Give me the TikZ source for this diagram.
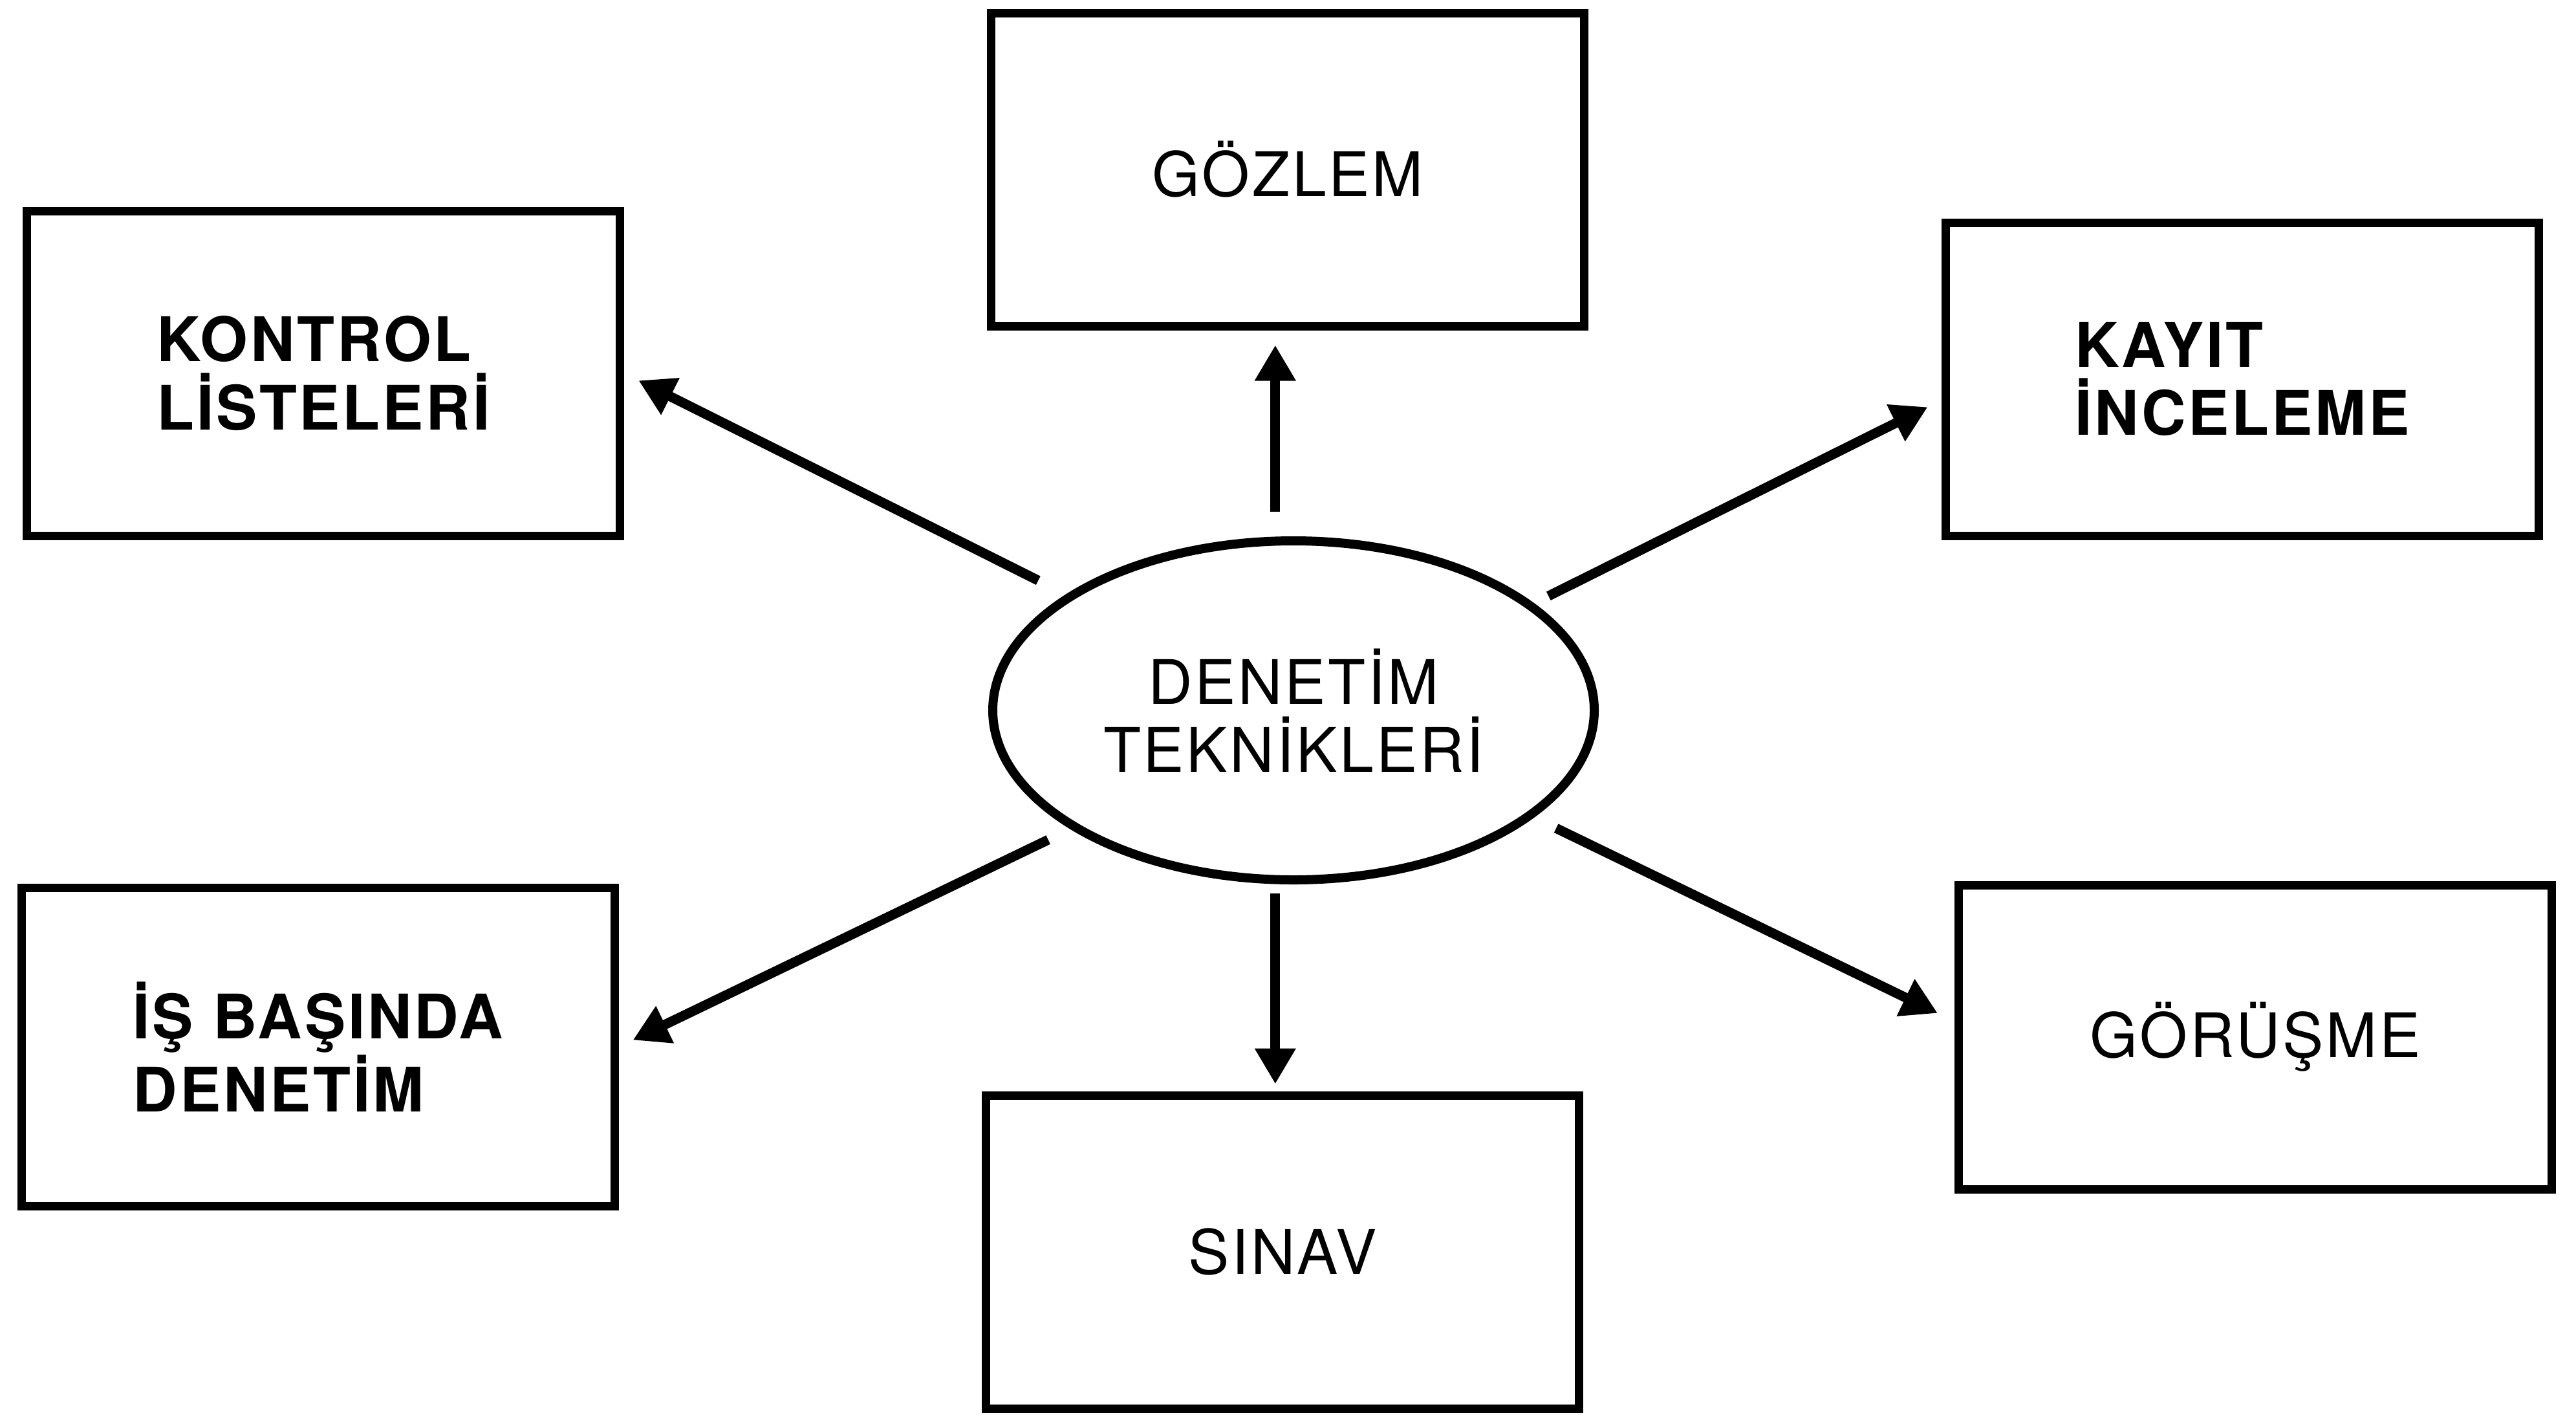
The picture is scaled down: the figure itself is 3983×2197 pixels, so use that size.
\documentclass[tikz,border=0pt]{standalone}
\usepackage{fontspec}
\setmainfont{TeX Gyre Heros}[LetterSpace=4]
\usetikzlibrary{arrows.meta,shapes.geometric}
\begin{document}
\begin{tikzpicture}[x=0.1mm,y=-0.1mm,
  kutu/.style={draw,line width=1.3mm,minimum width=91.7mm,minimum height=48.4mm,align=left,font=\fontsize{27pt}{30pt}\selectfont},
  ok/.style={line width=1.5mm,-{Triangle[length=5.5mm,width=6mm]}}]
\useasboundingbox (0,0) rectangle (3983,2197);
\node[kutu] (gozlem) at (1991,262) {GÖZLEM};
\node[kutu,minimum height=50.2mm,font=\fontsize{27pt}{30pt}\selectfont\bfseries] (kontrol) at (500,577) {KONTROL\\LİSTELERİ};
\node[kutu,font=\fontsize{27pt}{30pt}\selectfont\bfseries] (kayit) at (3467,586) {KAYIT\\İNCELEME};
\node[kutu,minimum height=49.2mm,font=\fontsize{27pt}{30pt}\selectfont\bfseries] (isbasi) at (492,1618) {İŞ BAŞINDA\\DENETİM};
\node[kutu] (sinav) at (1983,1935) {SINAV};
\node[kutu,minimum height=47mm] (gorusme) at (3487,1603) {GÖRÜŞME};
\node[draw,ellipse,line width=1.4mm,minimum width=93mm,minimum height=52.4mm,align=center,font=\fontsize{27pt}{30pt}\selectfont] (denetim) at (2000,1098) {DENETİM\\TEKNİKLERİ};
\draw[ok,shorten <=3.9mm,shorten >=2.3mm] (denetim.96) -- (denetim.96 |- gozlem.south);
\draw[ok,shorten <=1.4mm,shorten >=1.1mm] (denetim.-96) -- (denetim.-96 |- sinav.north);
\draw[ok,shorten <=4.8mm,shorten >=2.5mm] (denetim.153) -- (kontrol.east);
\draw[ok,shorten <=2.5mm,shorten >=2.4mm] (denetim.24.5) -- (kayit.184);
\draw[ok,shorten <=3.8mm,shorten >=2.4mm] (denetim.208) -- (isbasi.east);
\draw[ok,shorten <=3.8mm,shorten >=2.9mm] (denetim.-24.6) -- (gorusme.177);
\end{tikzpicture}
\end{document}
